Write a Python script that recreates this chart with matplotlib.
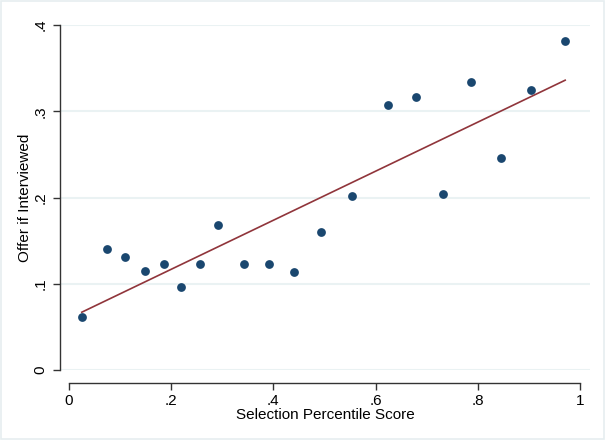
import matplotlib
matplotlib.use("Agg")
import matplotlib.pyplot as plt
from matplotlib.patches import Rectangle

# binned scatter: selection percentile score vs. offer rate
score = [0.025, 0.074, 0.110, 0.149, 0.186, 0.219, 0.256, 0.292, 0.343, 0.391,
         0.440, 0.493, 0.554, 0.624, 0.679, 0.732, 0.787, 0.845, 0.904, 0.971]
offer = [0.061, 0.140, 0.131, 0.115, 0.123, 0.096, 0.123, 0.168, 0.123, 0.123,
         0.114, 0.160, 0.202, 0.307, 0.316, 0.204, 0.334, 0.246, 0.325, 0.381]
# linear fit endpoints
fit_x = [0.025, 0.971]
fit_y = [0.067, 0.336]

xticks = [0, 0.2, 0.4, 0.6, 0.8, 1]
xticklabels = ["0", ".2", ".4", ".6", ".8", "1"]
yticks = [0, 0.1, 0.2, 0.3, 0.4]
yticklabels = ["0", ".1", ".2", ".3", ".4"]

plt.rcParams["font.family"] = ["Liberation Sans", "DejaVu Sans"]

fig = plt.figure(figsize=(6.05, 4.4), dpi=100)
fig.patches.append(Rectangle((0.002, 0.003), 0.996, 0.994, transform=fig.transFigure,
                             fill=False, ec="#e6eef0", lw=1.2))
ax = fig.add_axes([60 / 605, 70 / 440, 530 / 605, 345 / 440])

ax.scatter(score, offer, s=40, color="#1a476f", zorder=3, linewidths=0)
ax.plot(fit_x, fit_y, color="#90353b", lw=1.2, zorder=2)

ax.set_xlim(-9 / 511, 1 + 10 / 511)
ax.set_ylim(0, 0.4)
ax.set_xticks(xticks, xticklabels)
ax.set_yticks(yticks, yticklabels)
for lab in ax.get_yticklabels():
    lab.set_rotation(90)
    lab.set_va("center")

for y in yticks:
    ax.axhline(y, color="#eaf2f3", lw=1.5, zorder=0)

for s in ("top", "right"):
    ax.spines[s].set_visible(False)
ax.spines["bottom"].set_position(("outward", 9))
ax.spines["bottom"].set_bounds(0, 1)
for s in ("left", "bottom"):
    ax.spines[s].set_color("#333333")
    ax.spines[s].set_linewidth(1.0)
ax.tick_params(direction="out", length=5, width=1.0, color="#333333",
               labelsize=11, labelcolor="black")
ax.tick_params(axis="y", pad=4)

ax.set_xlabel("Selection Percentile Score", fontsize=11, labelpad=0)
ax.set_ylabel("Offer if Interviewed", fontsize=11, labelpad=1)

fig.savefig("out.png", dpi=100)
